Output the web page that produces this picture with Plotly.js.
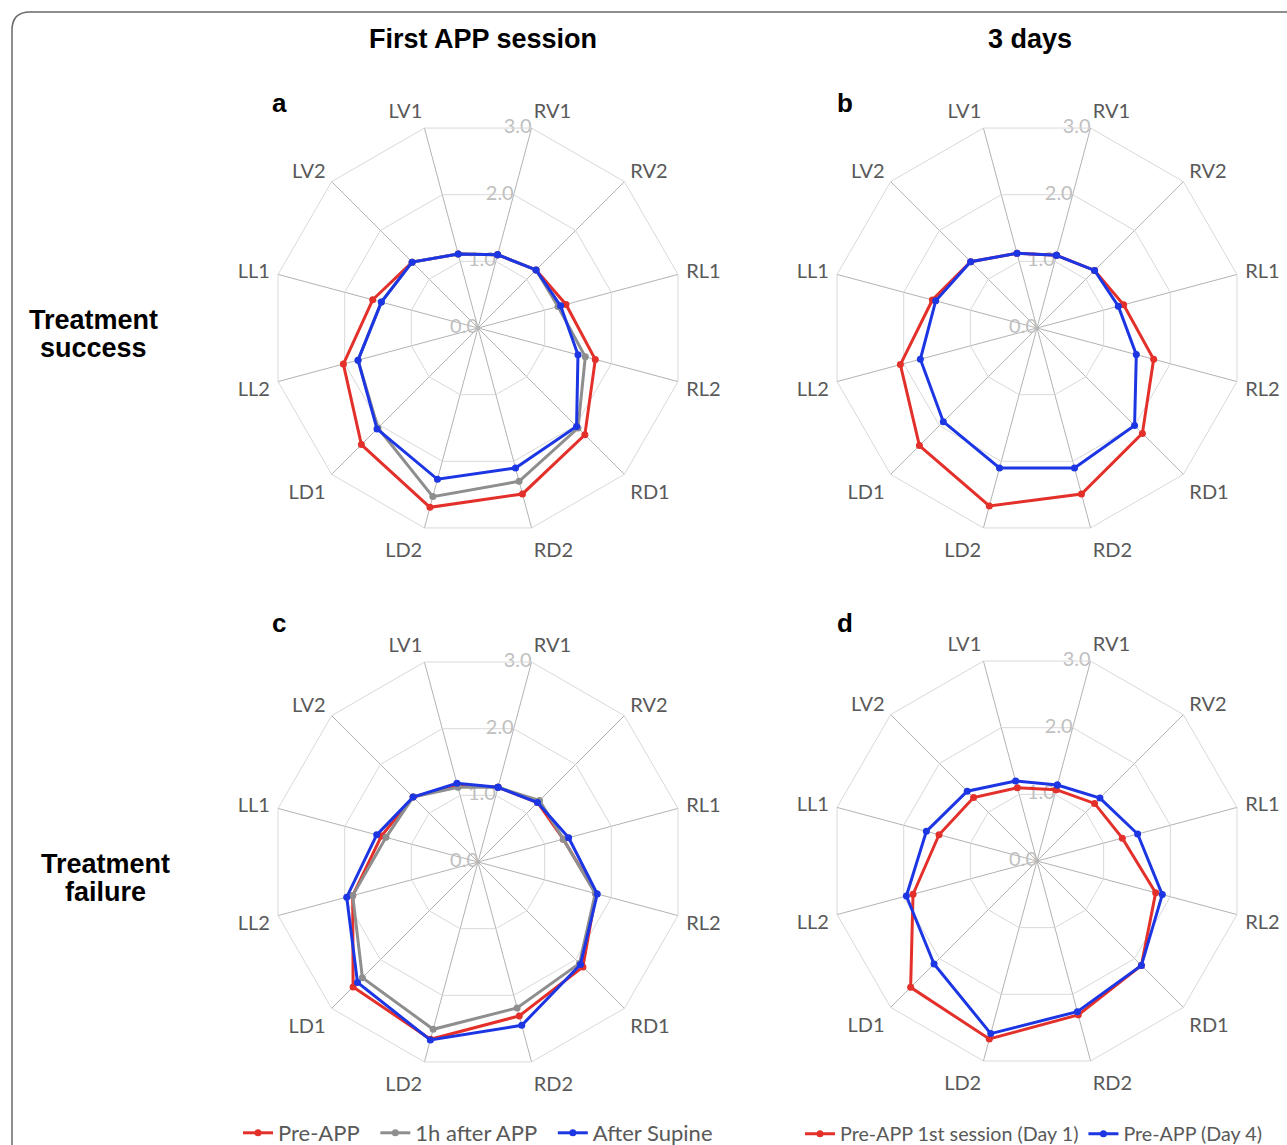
<!DOCTYPE html>
<html>
<head>
<meta charset="utf-8">
<script src="https://cdn.plot.ly/plotly-3.0.1.min.js"></script>
<style>html,body{margin:0;padding:0;background:#fff;overflow:hidden;} #chart{width:1287px;height:1170px;}</style>
</head>
<body>
<div id="chart"></div>
<script>
// Categories (clockwise from RV1)
const categories = ['RV1','RV2','RL1','RL2','RD1','RD2','LD2','LD1','LL2','LL1','LV2','LV1'];
const radialTicks = [0, 1, 2, 3];
const radialTickLabels = ['0.0', '1.0', '2.0', '3.0'];

// Panel a: Treatment success, first APP session
const a_preAPP     = [1.10, 1.19, 1.32, 1.76, 2.19, 2.49, 2.69, 2.39, 2.02, 1.58, 1.35, 1.11];
const a_1hAfterAPP = [1.10, 1.19, 1.20, 1.61, 2.05, 2.30, 2.53, 2.05, 1.80, 1.45, 1.35, 1.11];
const a_afterSup   = [1.10, 1.19, 1.24, 1.50, 2.02, 2.10, 2.27, 2.07, 1.80, 1.45, 1.35, 1.11];

// Panel b: Treatment success, 3 days
const b_day1 = [1.09, 1.18, 1.30, 1.75, 2.16, 2.49, 2.67, 2.41, 2.05, 1.57, 1.36, 1.12];
const b_day4 = [1.09, 1.18, 1.22, 1.49, 2.00, 2.10, 2.10, 1.92, 1.75, 1.52, 1.36, 1.12];

// Panel c: Treatment failure, first APP session
const c_preAPP     = [1.12, 1.22, 1.28, 1.77, 2.15, 2.31, 2.66, 2.56, 1.88, 1.45, 1.33, 1.16];
const c_1hAfterAPP = [1.12, 1.26, 1.28, 1.76, 2.08, 2.19, 2.51, 2.37, 1.88, 1.38, 1.33, 1.12];
const c_afterSup   = [1.12, 1.22, 1.36, 1.79, 2.10, 2.45, 2.67, 2.47, 1.97, 1.52, 1.33, 1.18];

// Panel d: Treatment failure, 3 days
const d_day1 = [1.07, 1.18, 1.28, 1.78, 2.14, 2.31, 2.67, 2.59, 1.86, 1.47, 1.30, 1.10];
const d_day4 = [1.14, 1.29, 1.51, 1.88, 2.14, 2.26, 2.59, 2.11, 1.96, 1.66, 1.43, 1.20];

const seriesNames1 = ['Pre-APP', '1h after APP', 'After Supine'];
const seriesNames2 = ['Pre-APP 1st session (Day 1)', 'Pre-APP (Day 4)'];

const RED = '#e3302a', GRAY = '#8e8e8e', BLUE = '#1c36e4';
const PADS = '\u00a0\u00a0';

function closed(arr){ return arr.concat([arr[0]]); }
function trace(vals, name, color, subplot, legend, showlegend){
  return {
    type: 'scatterpolar', mode: 'lines+markers',
    r: closed(vals), theta: closed(categories),
    name: name, subplot: subplot, legend: legend, showlegend: showlegend,
    line: {color: color, width: 3}, marker: {color: color, size: 7},
    cliponaxis: false
  };
}
function tickTrace(subplot){
  return {
    type: 'scatterpolar', mode: 'text', subplot: subplot, showlegend: false,
    r: radialTicks.map(v => Math.max(v, 0.0005)), theta: radialTicks.map(() => categories[0]),
    text: radialTickLabels, textposition: 'middle left',
    textfont: {family: 'Lato, sans-serif', size: 20, color: '#bfbfbf'},
    cliponaxis: false, hoverinfo: 'skip'
  };
}

const data = [
  tickTrace('polar'), tickTrace('polar2'), tickTrace('polar3'), tickTrace('polar4'),
  trace(a_preAPP, seriesNames1[0] + PADS, RED, 'polar', 'legend', true),
  trace(a_1hAfterAPP, seriesNames1[1] + PADS, GRAY, 'polar', 'legend', true),
  trace(a_afterSup, seriesNames1[2], BLUE, 'polar', 'legend', true),
  trace(b_day1, seriesNames2[0], RED, 'polar2', 'legend2', true),
  trace(b_day4, seriesNames2[1], BLUE, 'polar2', 'legend2', true),
  trace(c_preAPP, seriesNames1[0], RED, 'polar3', 'legend', false),
  trace(c_1hAfterAPP, seriesNames1[1], GRAY, 'polar3', 'legend', false),
  trace(c_afterSup, seriesNames1[2], BLUE, 'polar3', 'legend', false),
  trace(d_day1, seriesNames2[0], RED, 'polar4', 'legend2', false),
  trace(d_day4, seriesNames2[1], BLUE, 'polar4', 'legend2', false)
];

const W = 1287, H = 1170, R = 207;
function dom(cx, cy){
  return {x: [(cx - R)/W, (cx + R)/W], y: [1 - (cy + R)/H, 1 - (cy - R)/H]};
}
function polarCfg(cx, cy){
  return {
    domain: dom(cx, cy),
    bgcolor: 'rgba(0,0,0,0)',
    gridshape: 'linear',
    radialaxis: {
      range: [0, 3], tickvals: radialTicks,
      angle: 75, showticklabels: false,
      showline: false, ticks: '',
      gridcolor: '#d9d9d9', gridwidth: 1
    },
    angularaxis: {
      type: 'category', categoryarray: categories,
      rotation: 75, direction: 'clockwise',
      showline: true, linecolor: '#d9d9d9', linewidth: 1,
      gridcolor: '#b3b3b3', gridwidth: 1,
      ticks: 'outside', ticklen: 4, tickcolor: 'rgba(0,0,0,0)',
      tickfont: {family: 'Lato, sans-serif', size: 20, color: '#595959'}
    }
  };
}

const boldFont = {family: 'Liberation Sans, Arial, sans-serif', size: 28, color: '#000'};
function ann(text, px, py, size){
  return {text: '<b>' + text + '</b>', x: px / W, y: 1 - py / H, xref: 'paper', yref: 'paper',
          showarrow: false, xanchor: 'center', yanchor: 'middle',
          font: Object.assign({}, boldFont, {size: size || 28})};
}

const layout = {
  width: W, height: H,
  margin: {l: 0, r: 0, t: 0, b: 0},
  paper_bgcolor: '#fff',
  polar: polarCfg(478, 328),
  polar2: polarCfg(1037, 328),
  polar3: polarCfg(478, 862),
  polar4: polarCfg(1037, 861),
  legend: {orientation: 'h', x: 238 / W, y: 1 - 1133 / H, xanchor: 'left', yanchor: 'middle',
           font: {family: 'Lato, sans-serif', size: 22, color: '#595959'}, itemwidth: 30, bgcolor: 'rgba(0,0,0,0)'},
  legend2: {orientation: 'h', x: 800 / W, y: 1 - 1134 / H, xanchor: 'left', yanchor: 'middle',
           font: {family: 'Lato, sans-serif', size: 19.7, color: '#595959'}, itemwidth: 30, bgcolor: 'rgba(0,0,0,0)'},
  annotations: [
    ann('First APP session', 483, 39, 27),
    ann('3 days', 1030, 39, 27),
    ann('Treatment', 93, 320, 27),
    ann('success', 93, 348, 27),
    ann('Treatment', 105, 864, 27),
    ann('failure', 105, 892, 27),
    ann('a', 279, 103, 26),
    ann('b', 845, 103, 26),
    ann('c', 279, 623, 26),
    ann('d', 845, 623, 26)
  ],
  shapes: [{
    type: 'path', xref: 'paper', yref: 'paper',
    path: 'M ' + (12/W) + ' 0 L ' + (12/W) + ' ' + (1 - 30/H) +
          ' Q ' + (12/W) + ' ' + (1 - 12/H) + ' ' + (30/W) + ' ' + (1 - 12/H) +
          ' L 1 ' + (1 - 12/H),
    line: {color: '#6a6a6a', width: 1.5}
  }],
  showlegend: true
};

Plotly.newPlot('chart', data, layout, {staticPlot: true});
</script>
</body>
</html>
